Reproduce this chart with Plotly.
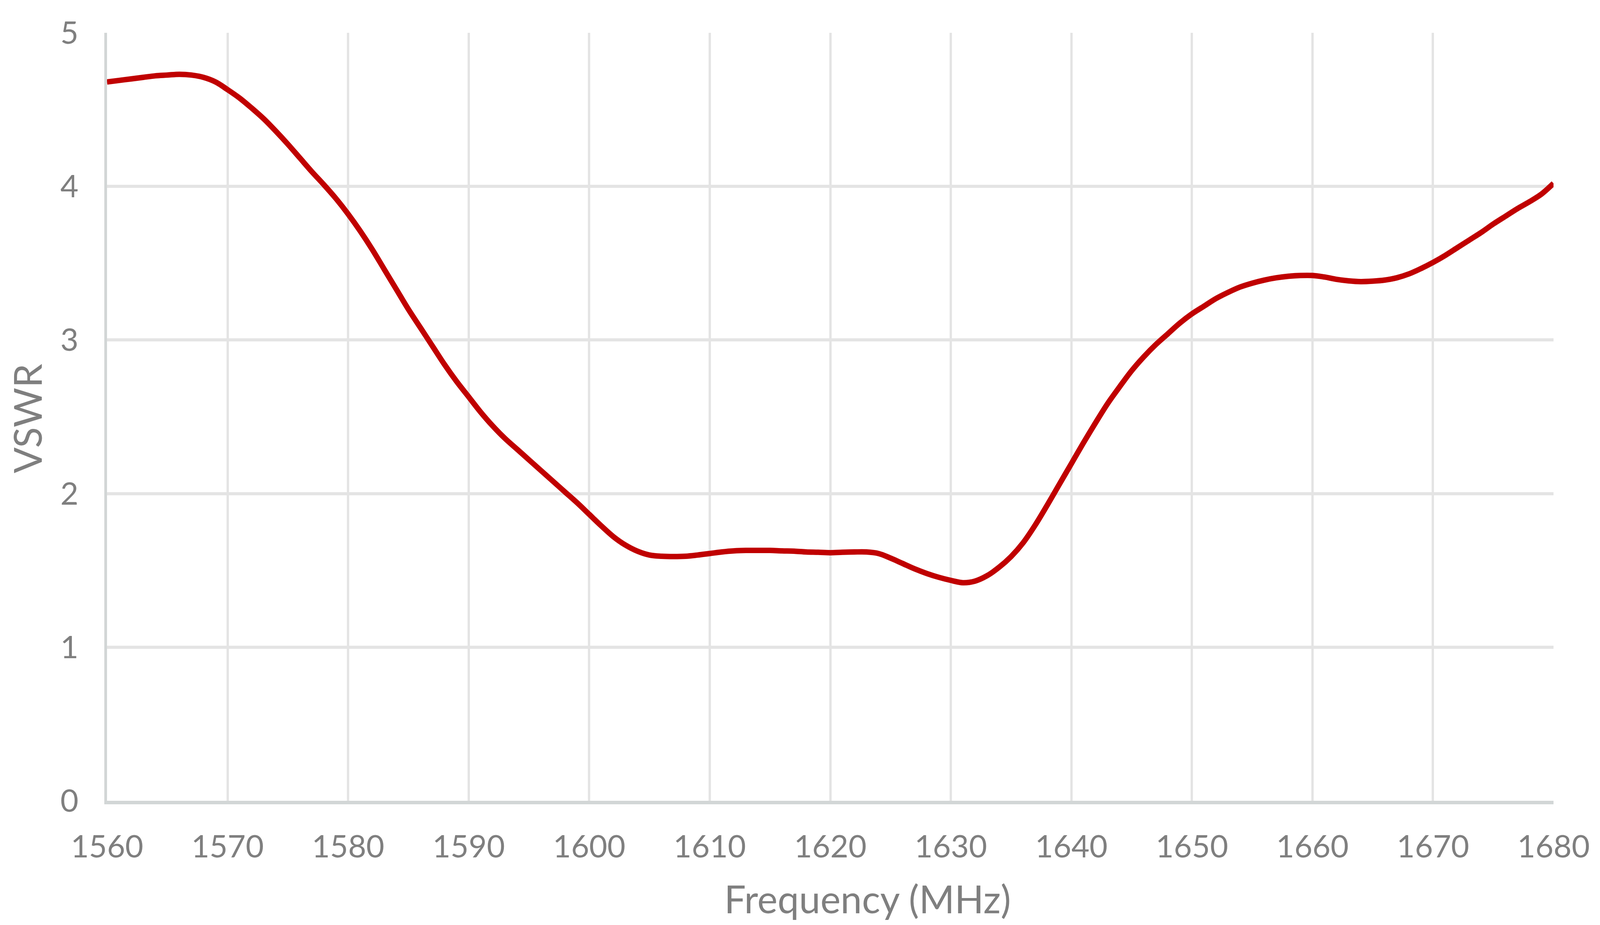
import plotly.graph_objects as go

frequency_mhz = list(range(1560, 1681))
vswr = [
    4.68, 4.69, 4.70, 4.71, 4.72, 4.725, 4.73, 4.725, 4.71, 4.68,
    4.63, 4.575, 4.51, 4.44, 4.36, 4.275, 4.185, 4.095, 4.01, 3.92,
    3.82, 3.71, 3.59, 3.46, 3.33, 3.20, 3.08, 2.96, 2.84, 2.73,
    2.63, 2.53, 2.44, 2.36, 2.29, 2.22, 2.15, 2.08, 2.01, 1.94,
    1.865, 1.79, 1.72, 1.665, 1.625, 1.60, 1.592, 1.59, 1.592, 1.60,
    1.61, 1.62, 1.627, 1.63, 1.63, 1.63, 1.627, 1.625, 1.62, 1.618,
    1.615, 1.618, 1.62, 1.62, 1.61, 1.58, 1.545, 1.51, 1.48, 1.455,
    1.435, 1.42, 1.43, 1.465, 1.52, 1.59, 1.68, 1.795, 1.925, 2.06,
    2.195, 2.33, 2.46, 2.585, 2.695, 2.80, 2.89, 2.97, 3.04, 3.11,
    3.17, 3.22, 3.27, 3.31, 3.345, 3.37, 3.39, 3.405, 3.415, 3.42,
    3.42, 3.41, 3.395, 3.385, 3.38, 3.383, 3.39, 3.405, 3.43, 3.465,
    3.505, 3.55, 3.60, 3.65, 3.70, 3.755, 3.805, 3.855, 3.90, 3.95,
    4.02,
]
x_ticks = list(range(1560, 1681, 10))
y_ticks = [0, 1, 2, 3, 4, 5]
x_title = "Frequency (MHz)"
y_title = "VSWR"

FONT = "Lato"
GRAY = "#7f7f7f"

# The browser viewport is 4096 px wide (capped), so lay the chart out to fill it.
W, H = 4096, 2368
SX = W / 5194.0
L = round(348 * SX)
R = W - round(5043 * SX)
T, B = 84, 318

fig = go.Figure()
fig.add_trace(go.Scatter(
    x=frequency_mhz, y=vswr, mode="lines",
    line=dict(color="#c00000", width=14, shape="spline", smoothing=1.0),
    showlegend=False, hoverinfo="skip",
))

fig.update_layout(
    width=W, height=H,
    margin=dict(l=L, r=R, t=T, b=B, pad=0),
    paper_bgcolor="white", plot_bgcolor="white",
    font=dict(family=FONT, color=GRAY, size=80),
    showlegend=False,
)
fig.update_xaxes(
    range=[1560, 1680], tickvals=x_ticks, ticktext=[str(v) for v in x_ticks],
    showgrid=True, gridcolor="#e4e4e4", gridwidth=6,
    showline=True, linecolor="#d2d6d6", linewidth=9,
    ticks="", ticklabelstandoff=40, zeroline=False,
    tickfont=dict(family=FONT, size=80, color=GRAY),
)
fig.update_yaxes(
    range=[0, 5], tickvals=y_ticks, ticktext=[str(v) for v in y_ticks],
    showgrid=True, gridcolor="#e4e4e4", gridwidth=8,
    showline=True, linecolor="#d2d6d6", linewidth=7,
    ticks="", ticklabelstandoff=50, zeroline=False,
    tickfont=dict(family=FONT, size=80, color=GRAY),
)

plot_w = W - L - R
plot_h = H - T - B
fig.add_annotation(
    text=x_title, xref="paper", yref="paper",
    x=(2816 * SX - L) / plot_w, y=0, xanchor="center", yanchor="middle",
    yshift=-(2300 - (H - B)), showarrow=False,
    font=dict(family=FONT, size=98, color=GRAY),
)
fig.add_annotation(
    text=y_title, xref="paper", yref="paper",
    x=0, y=(H - B - 1071) / plot_h, xanchor="center", yanchor="middle",
    xshift=-(L - 87 * SX), textangle=-90, showarrow=False,
    font=dict(family=FONT, size=98, color=GRAY),
)

fig.write_html(
    "out.html",
    config={"displayModeBar": False},
    post_script="document.body.style.margin='0';document.body.style.overflow='hidden';",
)
